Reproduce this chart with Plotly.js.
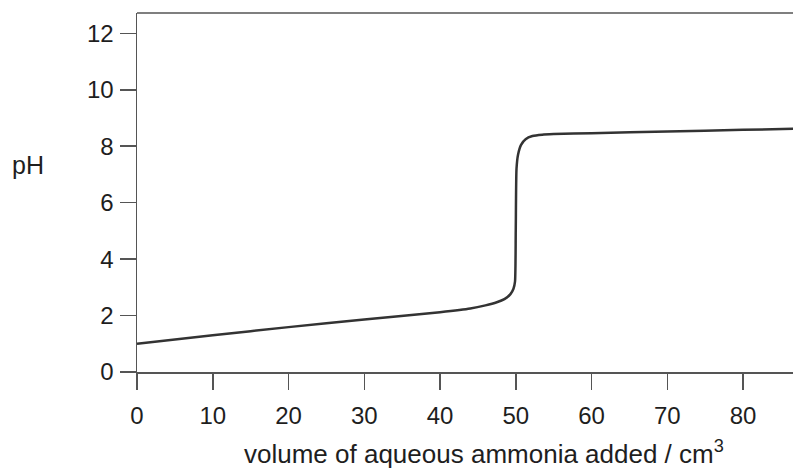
<!DOCTYPE html>
<html>
<head>
<meta charset="utf-8">
<script src="https://cdn.plot.ly/plotly-3.0.1.min.js"></script>
<style>html,body{margin:0;padding:0;background:#fff;}#chart{width:793px;height:468px;}</style>
</head>
<body>
<div id="chart"></div>
<script>
const volume = [0, 10, 20, 30, 40, 44, 46, 47.5, 48.5, 49.3, 49.7, 49.9, 50.0, 50.1, 50.3, 50.7, 51.3, 52.2, 53.5, 55, 60, 70, 80, 86.7];
const pH = [1.00, 1.30, 1.59, 1.86, 2.12, 2.25, 2.36, 2.47, 2.58, 2.76, 2.95, 3.2, 5.0, 7.2, 7.7, 8.05, 8.25, 8.36, 8.41, 8.43, 8.46, 8.52, 8.58, 8.62];
const xTicks = [0, 10, 20, 30, 40, 50, 60, 70, 80];
const yTicks = [0, 2, 4, 6, 8, 10, 12];
const xTitle = "volume of aqueous ammonia added / cm<sup>3</sup>";
const yTitle = "pH";

const fontFam = "Liberation Sans, Arial, Helvetica, sans-serif";
const axisCol = "#555";
const textCol = "#1e1e1e";

const trace = {
  x: volume, y: pH, type: "scatter", mode: "lines",
  line: {color: "#333", width: 2.5, shape: "spline", smoothing: 0.6},
  hoverinfo: "skip"
};

const axisCommon = {
  showgrid: false, zeroline: false, showline: true, linecolor: axisCol, linewidth: 1.5,
  ticks: "outside", ticklen: 16, tickwidth: 1.5, tickcolor: axisCol,
  tickfont: {family: fontFam, size: 24, color: textCol}, fixedrange: true
};

const layout = {
  width: 793, height: 468,
  margin: {l: 137, r: 0, t: 13, b: 96},
  paper_bgcolor: "#fff", plot_bgcolor: "#fff",
  showlegend: false,
  xaxis: Object.assign({}, axisCommon, {range: [0, 86.6], tickvals: xTicks, ticklabelstandoff: 6}),
  yaxis: Object.assign({}, axisCommon, {range: [0, 12.72], tickvals: yTicks, ticklabelstandoff: 1}),
  shapes: [{type: "line", xref: "paper", yref: "paper", x0: 0, x1: 1, y0: 1, y1: 1, line: {color: axisCol, width: 1.5}}],
  annotations: [
    {text: xTitle, xref: "paper", yref: "paper", x: (484 - 137) / 656, y: (372 - 452) / 359, xanchor: "center", yanchor: "middle", showarrow: false, font: {family: fontFam, size: 26, color: textCol}},
    {text: yTitle, xref: "paper", yref: "paper", x: (27.5 - 137) / 656, y: (372 - 165) / 359, xanchor: "center", yanchor: "middle", showarrow: false, font: {family: fontFam, size: 25, color: textCol}}
  ]
};

Plotly.newPlot("chart", [trace], layout, {staticPlot: true, displayModeBar: false});
</script>
</body>
</html>
